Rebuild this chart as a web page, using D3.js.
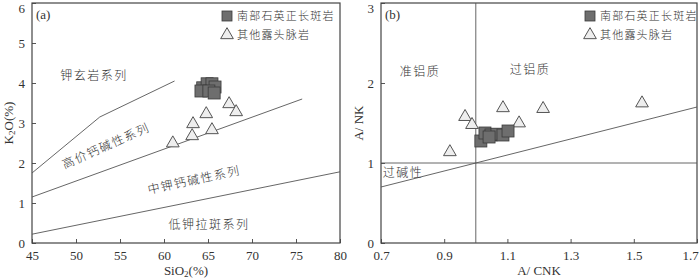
<!DOCTYPE html>
<html>
<head>
<meta charset="utf-8">
<script src="https://cdn.jsdelivr.net/npm/d3@7"></script>
<style>
  body { margin: 0; background: #fff; }
  svg { display: block; }
  text { font-family: "Liberation Serif", "Noto Sans CJK SC", serif; fill: #333; }
  .cn { font-family: "Noto Sans CJK SC", sans-serif; font-weight: 300; }
</style>
</head>
<body>
<svg id="svg" width="700" height="280"></svg>
<script>
// panel (a): SiO2 vs K2O
let sioSquares = [64.4, 64.9, 65.45, 65.8, 64.2, 65.1, 65.7];
let k2oSquares = [3.88, 3.98, 3.98, 3.9, 3.8, 3.8, 3.75];
let sioTriangles = [61.0, 63.3, 63.2, 64.8, 65.45, 67.4, 68.2];
let k2oTriangles = [2.52, 3.0, 2.7, 3.25, 2.85, 3.5, 3.3];
let sioTicks = [45, 50, 55, 60, 65, 70, 75, 80];
let k2oTicks = [0, 1, 2, 3, 4, 5, 6];
let lineShoshonite = [[45, 1.75], [52.7, 3.15], [61.2, 4.05]];
let lineHighK = [[45, 1.15], [75.7, 3.6]];
let lineLowK = [[45, 0.22], [80, 1.78]];

// panel (b): A/CNK vs A/NK
let acnkSquares = [1.016, 1.029, 1.048, 1.067, 1.086, 1.102, 1.042];
let ankSquares = [1.275, 1.375, 1.35, 1.36, 1.35, 1.40, 1.325];
let acnkTriangles = [0.966, 0.988, 1.086, 1.213, 1.137, 1.526, 0.918];
let ankTriangles = [1.59, 1.49, 1.70, 1.69, 1.51, 1.76, 1.15];
let acnkTicks = [0.7, 0.9, 1.1, 1.3, 1.5, 1.7];
let ankTicks = [0, 1, 2, 3];
let lineDiag = [[0.7, 0.7], [1.7, 1.7]];

let legendNames = ['南部石英正长斑岩', '其他露头脉岩'];

let svg = d3.select('#svg');
let lineColor = '#555';

function drawPanel(opt) {
  let g = svg.append('g');
  let x = d3.scaleLinear().domain(opt.xDomain).range([opt.left, opt.right]);
  let y = d3.scaleLinear().domain(opt.yDomain).range([243, 3]);

  let xAxis = g.append('g')
    .attr('transform', 'translate(0,243)')
    .call(d3.axisTop(x).tickValues(opt.xTicks).tickSize(4).tickFormat(opt.xFormat));
  xAxis.selectAll('text').attr('y', 12).attr('dy', '0.35em');
  // last label sits against the right edge
  xAxis.selectAll('.tick').filter((d, i, n) => i == n.length - 1)
    .select('text').attr('x', opt.lastXShift);
  let yAxis = g.append('g')
    .attr('transform', 'translate(' + opt.left + ',0)')
    .call(d3.axisRight(y).tickValues(opt.yTicks).tickSize(4).tickFormat(d3.format('d')));
  yAxis.selectAll('text').attr('x', -7).attr('text-anchor', 'end');
  yAxis.selectAll('.tick').filter((d, i, n) => i == n.length - 1)
    .select('text').attr('dy', '0.75em');
  g.selectAll('.domain').remove();
  xAxis.attr('font-family', null).attr('font-size', null);
  yAxis.attr('font-family', null).attr('font-size', null);
  g.selectAll('.tick line').attr('stroke', lineColor);
  g.selectAll('.tick text').style('font-size', '13px').attr('fill', '#333');

  g.append('rect')
    .attr('x', opt.left).attr('y', 3)
    .attr('width', opt.right - opt.left).attr('height', 240)
    .attr('fill', 'none').attr('stroke', '#444').attr('stroke-width', 1.2);

  let line = d3.line().x(d => x(d[0])).y(d => y(d[1]));
  opt.lines.forEach(pts => {
    g.append('path').attr('d', line(pts))
      .attr('fill', 'none').attr('stroke', lineColor).attr('stroke-width', 0.9);
  });

  let tri = d3.symbol().type(d3.symbolTriangle).size(70);
  opt.triX.forEach((v, i) => {
    g.append('path').attr('d', tri())
      .attr('transform', 'translate(' + x(v) + ',' + (y(opt.triY[i]) + 1) + ')')
      .attr('fill', '#eee').attr('stroke', '#555').attr('stroke-width', 1);
  });
  opt.sqX.forEach((v, i) => {
    g.append('rect')
      .attr('x', x(v) - 6).attr('y', y(opt.sqY[i]) - 6)
      .attr('width', 12).attr('height', 12)
      .attr('fill', '#6e6e6e').attr('stroke', '#3a3a3a').attr('stroke-width', 0.8);
  });

  // legend
  g.append('rect').attr('x', opt.legX - 5).attr('y', 11).attr('width', 10).attr('height', 10)
    .attr('fill', '#6e6e6e').attr('stroke', '#3a3a3a').attr('stroke-width', 0.8);
  g.append('path').attr('d', tri())
    .attr('transform', 'translate(' + opt.legX + ',35)')
    .attr('fill', '#eee').attr('stroke', '#555');
  legendNames.forEach((name, i) => {
    g.append('text').attr('class', 'cn')
      .attr('x', opt.legX + 10).attr('y', 16 + i * 19).attr('dy', '0.35em')
      .style('font-size', '11px').style('letter-spacing', '1.2px')
      .text(name);
  });

  g.append('text').attr('x', opt.left + 4).attr('y', 14).attr('dy', '0.35em')
    .style('font-size', '13px').text(opt.tag);

  g.append('text').attr('x', (opt.left + opt.right) / 2).attr('y', 270).attr('dy', '0.35em')
    .attr('text-anchor', 'middle').style('font-size', '13px').html(opt.xLabel);
  g.append('text')
    .attr('transform', 'translate(' + opt.yLabelX + ',123) rotate(-90)')
    .attr('text-anchor', 'middle').attr('dy', '0.35em')
    .style('font-size', '13px').html(opt.yLabel);

  opt.notes.forEach(n => {
    g.append('text').attr('class', 'cn')
      .attr('transform', 'translate(' + n.x + ',' + n.y + ') rotate(' + (n.r || 0) + ')')
      .attr('text-anchor', 'middle').attr('dy', '0.35em')
      .style('font-size', '12px').style('letter-spacing', '1.5px')
      .text(n.t);
  });
}

drawPanel({
  left: 32, right: 340,
  xDomain: [45, 80], yDomain: [0, 6],
  xTicks: sioTicks, yTicks: k2oTicks, xFormat: d3.format('d'), lastXShift: 0,
  lines: [lineShoshonite, lineHighK, lineLowK],
  sqX: sioSquares, sqY: k2oSquares, triX: sioTriangles, triY: k2oTriangles,
  legX: 227, tag: '(a)',
  xLabel: 'SiO<tspan font-size="9px" dy="2">2</tspan><tspan dy="-2">(%)</tspan>',
  yLabel: 'K<tspan font-size="9px" dy="2">2</tspan><tspan dy="-2">O(%)</tspan>',
  yLabelX: 8,
  notes: [
    { t: '钾玄岩系列', x: 94, y: 76 },
    { t: '高价钙碱性系列', x: 106, y: 146, r: -24 },
    { t: '中钾钙碱性系列', x: 194, y: 180, r: -12 },
    { t: '低钾拉斑系列', x: 209, y: 225 }
  ]
});

drawPanel({
  left: 381, right: 697,
  xDomain: [0.7, 1.7], yDomain: [0, 3],
  xTicks: acnkTicks, yTicks: ankTicks, xFormat: d3.format('.1f'), lastXShift: -7,
  lines: [[[1, 0], [1, 3]], [[0.7, 1], [1.7, 1]], lineDiag],
  sqX: acnkSquares, sqY: ankSquares, triX: acnkTriangles, triY: ankTriangles,
  legX: 590, tag: '(b)',
  xLabel: 'A/ CNK', yLabel: 'A/ NK', yLabelX: 358,
  notes: [
    { t: '准铝质', x: 420, y: 72 },
    { t: '过铝质', x: 530, y: 70 },
    { t: '过碱性', x: 403, y: 173 }
  ]
});
</script>
</body>
</html>
